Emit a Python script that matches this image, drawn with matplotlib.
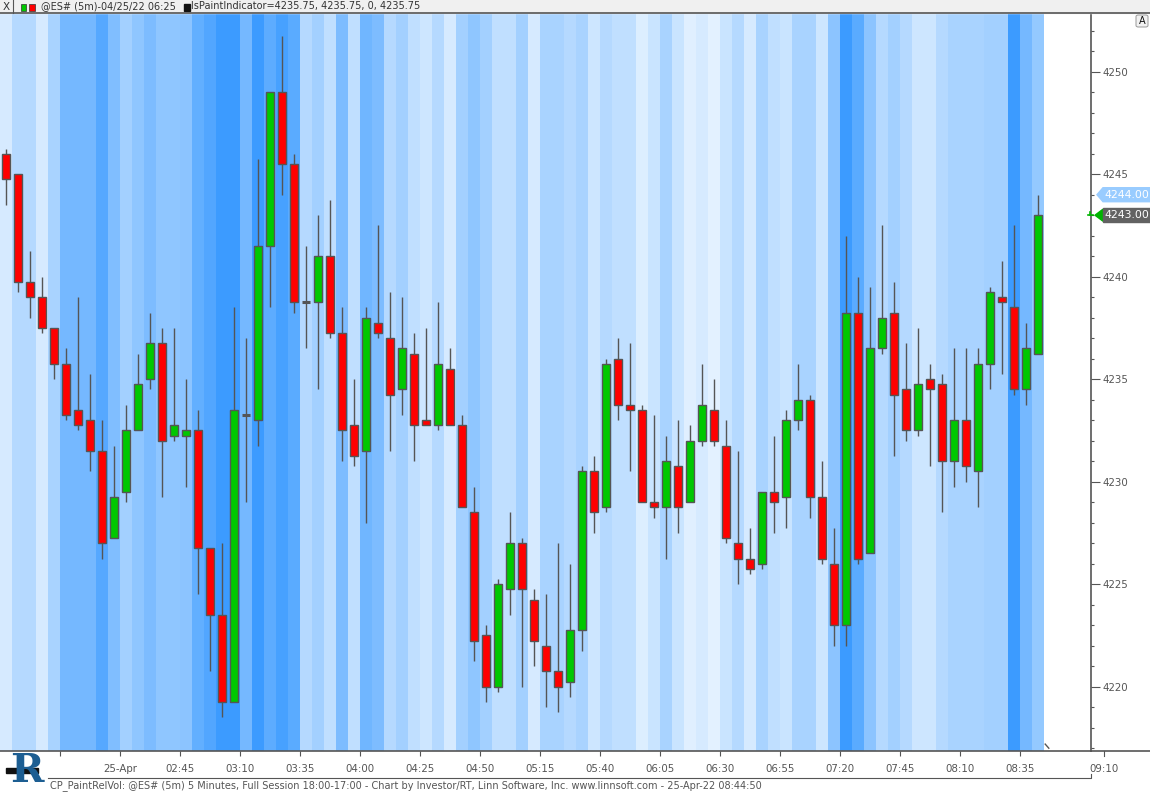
import numpy as np
import matplotlib.pyplot as plt
from matplotlib.colors import LinearSegmentedColormap
from matplotlib.patches import Rectangle, Polygon, FancyBboxPatch
from matplotlib.lines import Line2D

# 5 minute bars of @ES#, 01:30 -> 08:40
opens = [4246.0, 4245.0, 4239.75, 4239.0, 4237.5, 4235.75, 4233.5, 4233.0, 4231.5, 4227.25,
         4229.5, 4232.5, 4235.0, 4236.75, 4232.25, 4232.25, 4232.5, 4226.75, 4223.5, 4219.25,
         4233.25, 4233.0, 4241.5, 4249.0, 4245.5, 4238.75, 4238.75, 4241.0, 4237.25, 4232.75,
         4231.5, 4237.75, 4237.0, 4234.5, 4236.25, 4233.0, 4232.75, 4235.5, 4232.75, 4228.5,
         4222.5, 4220.0, 4224.75, 4227.0, 4224.25, 4222.0, 4220.75, 4220.25, 4222.75, 4230.5,
         4228.75, 4236.0, 4233.75, 4233.5, 4229.0, 4228.75, 4230.75, 4229.0, 4232.0, 4233.5,
         4231.75, 4227.0, 4226.25, 4226.0, 4229.5, 4229.25, 4233.0, 4234.0, 4229.25, 4226.0,
         4223.0, 4238.25, 4226.5, 4236.5, 4238.25, 4234.5, 4232.5, 4235.0, 4234.75, 4231.0,
         4233.0, 4230.5, 4235.75, 4239.0, 4238.5, 4234.5, 4236.25]
highs = [4246.25, 4245.0, 4241.25, 4240.0, 4237.5, 4236.5, 4239.0, 4235.25, 4233.0, 4231.75,
         4233.75, 4236.25, 4238.25, 4237.5, 4237.5, 4235.0, 4233.5, 4226.75, 4227.0, 4238.5,
         4237.0, 4245.75, 4249.0, 4251.75, 4246.0, 4241.5, 4243.0, 4243.75, 4238.5, 4235.0,
         4238.5, 4242.5, 4239.25, 4239.0, 4237.25, 4237.5, 4238.75, 4236.5, 4233.25, 4229.75,
         4223.0, 4225.25, 4228.5, 4227.25, 4224.75, 4224.5, 4227.0, 4226.0, 4230.75, 4231.25,
         4236.0, 4237.0, 4236.75, 4233.75, 4233.25, 4232.25, 4233.0, 4232.75, 4235.75, 4235.0,
         4233.0, 4231.5, 4227.75, 4229.5, 4232.25, 4233.5, 4235.75, 4234.25, 4231.0, 4227.75,
         4242.0, 4240.0, 4239.5, 4242.5, 4239.75, 4236.75, 4237.5, 4235.75, 4235.25, 4236.5,
         4236.5, 4236.5, 4239.5, 4240.75, 4242.5, 4237.75, 4244.0]
lows = [4243.5, 4239.25, 4238.0, 4237.25, 4235.0, 4233.0, 4232.5, 4230.5, 4226.25, 4227.25,
        4229.0, 4232.5, 4234.5, 4229.25, 4232.0, 4229.75, 4224.5, 4220.75, 4218.5, 4219.25,
        4229.0, 4231.75, 4238.5, 4244.0, 4238.25, 4236.5, 4234.5, 4237.0, 4231.0, 4230.75,
        4228.0, 4237.0, 4231.5, 4233.25, 4231.0, 4232.75, 4232.5, 4232.75, 4228.75, 4221.25,
        4219.25, 4219.75, 4223.5, 4220.0, 4221.0, 4219.0, 4218.75, 4219.5, 4221.75, 4227.5,
        4228.5, 4233.0, 4230.5, 4229.0, 4228.25, 4226.25, 4227.5, 4229.0, 4231.75, 4231.75,
        4227.0, 4225.0, 4225.5, 4225.75, 4227.5, 4227.75, 4232.5, 4228.25, 4226.0, 4222.0,
        4222.0, 4226.0, 4226.5, 4236.25, 4231.25, 4232.0, 4232.25, 4230.75, 4228.5, 4229.75,
        4230.0, 4228.75, 4234.5, 4235.25, 4234.25, 4233.75, 4236.25]
closes = [4244.75, 4239.75, 4239.0, 4237.5, 4235.75, 4233.25, 4232.75, 4231.5, 4227.0, 4229.25,
          4232.5, 4234.75, 4236.75, 4232.0, 4232.75, 4232.5, 4226.75, 4223.5, 4219.25, 4233.5,
          4233.25, 4241.5, 4249.0, 4245.5, 4238.75, 4238.75, 4241.0, 4237.25, 4232.5, 4231.25,
          4238.0, 4237.25, 4234.25, 4236.5, 4232.75, 4232.75, 4235.75, 4232.75, 4228.75, 4222.25,
          4220.0, 4225.0, 4227.0, 4224.75, 4222.25, 4220.75, 4220.0, 4222.75, 4230.5, 4228.5,
          4235.75, 4233.75, 4233.5, 4229.0, 4228.75, 4231.0, 4228.75, 4232.0, 4233.75, 4232.0,
          4227.25, 4226.25, 4225.75, 4229.5, 4229.0, 4233.0, 4234.0, 4229.25, 4226.25, 4223.0,
          4238.25, 4226.25, 4236.5, 4238.0, 4234.25, 4232.5, 4234.75, 4234.5, 4231.0, 4233.0,
          4230.75, 4235.75, 4239.25, 4238.75, 4234.5, 4236.5, 4243.0]
# relative volume (0 = low, 1 = high) used to paint the background
relvol = [0.08, 0.28, 0.28, 0.08, 0.35, 0.66, 0.66, 0.66, 0.84, 0.59,
          0.38, 0.50, 0.61, 0.50, 0.50, 0.52, 0.77, 0.87, 1.00, 1.00,
          0.66, 1.00, 0.80, 0.93, 0.82, 0.28, 0.38, 0.21, 0.61, 0.21,
          0.69, 0.61, 0.28, 0.38, 0.21, 0.13, 0.28, 0.08, 0.38, 0.50,
          0.38, 0.21, 0.21, 0.38, 0.08, 0.35, 0.35, 0.28, 0.35, 0.13,
          0.28, 0.21, 0.21, 0.04, 0.16, 0.35, 0.16, 0.02, 0.08, 0.00,
          0.16, 0.28, 0.08, 0.35, 0.21, 0.16, 0.35, 0.35, 0.13, 0.52,
          1.00, 0.82, 0.52, 0.28, 0.38, 0.28, 0.13, 0.13, 0.28, 0.35,
          0.35, 0.35, 0.38, 0.38, 1.00, 0.66, 0.47]

tick_bars = [5, 10, 15, 20, 25, 30, 35, 40, 45, 50, 55, 60, 65, 70, 75, 80, 85]
tick_labels = ['', '25-Apr', '02:45', '03:10', '03:35', '04:00', '04:25', '04:50', '05:15',
               '05:40', '06:05', '06:30', '06:55', '07:20', '07:45', '08:10', '08:35']
price_ticks = [4220, 4225, 4230, 4235, 4240, 4245, 4250]

W, H = 1150, 793
GRAY = '#555555'
FONT = 'DejaVu Sans'

def fx(p):
    return p / W

def fy(p):
    return 1 - p / H

fig = plt.figure(figsize=(11.5, 7.93), dpi=100)
ax = fig.add_axes([0, fy(751), fx(1091), (751 - 13) / H])

cmap = LinearSegmentedColormap.from_list('relvol', ['#e3f1ff', '#3c9bff'])
x = np.arange(len(opens))
o, h, l, c = (np.array(v) for v in (opens, highs, lows, closes))

for i, v in enumerate(relvol):
    ax.axvspan(i - 0.5, i + 0.5, color=cmap(v), lw=0, zorder=0)

up = c > o
dn = c < o
flat = c == o
ax.vlines(x, l, h, color=GRAY, lw=1.0, zorder=2)
ax.bar(x[up], (c - o)[up], bottom=o[up], width=0.6, color='#00c800',
       edgecolor=GRAY, lw=1.0, zorder=3)
ax.bar(x[dn], (o - c)[dn], bottom=c[dn], width=0.6, color='#ff0000',
       edgecolor=GRAY, lw=1.0, zorder=3)
ax.hlines(o[flat], x[flat] - 0.34, x[flat] + 0.34, color=GRAY, lw=2.2, zorder=3)

ax.set_xlim(-0.5, 90.4167)
ax.set_ylim(4216.863, 4252.863)

for s in ['left', 'top']:
    ax.spines[s].set_visible(False)
for s in ['right', 'bottom']:
    ax.spines[s].set_color(GRAY)
    ax.spines[s].set_linewidth(1.2)

ax.yaxis.tick_right()
ax.set_yticks(price_ticks)
ax.set_yticks(np.arange(4217, 4253), minor=True)
ax.tick_params(axis='y', which='major', length=6.5, width=0.8, color=GRAY,
               labelsize=7.4, labelcolor=GRAY, pad=1.5)
ax.tick_params(axis='y', which='minor', length=2.3, width=0.8, color=GRAY)
ax.set_xticks(np.array(tick_bars) - 0.5)
ax.set_xticklabels(tick_labels)
ax.tick_params(axis='x', length=3.6, width=0.8, color=GRAY, labelsize=7.4,
               labelcolor=GRAY, pad=5.5)
for lab in ax.get_xticklabels() + ax.get_yticklabels():
    lab.set_family(FONT)

# end-of-data marker
ax.plot([86.6, 86.9], [4217.2, 4217.0], color=GRAY, lw=1.0, clip_on=False)

# 09:10 tick beyond the price axis
fig.add_artist(Line2D([fx(1091), 1], [fy(751), fy(751)], color=GRAY, lw=1.2))
fig.add_artist(Line2D([fx(1104), fx(1104)], [fy(751), fy(756)], color=GRAY, lw=0.8))
fig.text(fx(1104), fy(769.5), '09:10', ha='center', va='center', fontsize=7.4,
         color=GRAY, family=FONT)

# footer
fig.add_artist(Line2D([fx(48), fx(1091), fx(1091)], [fy(778), fy(778), fy(774)],
                      color=GRAY, lw=0.8))
fig.text(fx(50), fy(786), 'CP_PaintRelVol: @ES# (5m) 5 Minutes, Full Session 18:00-17:00 - '
         'Chart by Investor/RT, Linn Software, Inc. www.linnsoft.com - 25-Apr-22 08:44:50',
         ha='left', va='center', fontsize=7, color=GRAY, family=FONT)

# logo
fig.text(fx(27), fy(771), 'R', ha='center', va='center', fontsize=29, weight='bold',
         family='DejaVu Serif', color='#1d5e92')
fig.add_artist(Rectangle((fx(6), fy(773)), fx(32), 5 / H, color='#111111'))

# header bar
fig.add_artist(Rectangle((0, fy(13)), 1, 13 / H, color='#f0f0f0'))
fig.add_artist(Line2D([0, 1], [fy(13), fy(13)], color=GRAY, lw=1.2))
fig.add_artist(Line2D([fx(13), fx(13)], [fy(0), fy(13)], color=GRAY, lw=0.8))
fig.text(fx(6.5), fy(6.5), 'X', ha='center', va='center', fontsize=7.5, color='#333333',
         family=FONT)
fig.add_artist(Rectangle((fx(20.5), fy(10.5)), fx(5.5), 6.5 / H, facecolor='#00c800',
                         edgecolor='#333333', lw=0.5))
fig.add_artist(Rectangle((fx(29), fy(10.5)), fx(5.5), 6.5 / H, facecolor='#ff0000',
                         edgecolor='#333333', lw=0.5))
fig.text(fx(41), fy(6.5), '@ES# (5m)-04/25/22 06:25', ha='left', va='center',
         fontsize=7.0, color='#333333', family=FONT)
fig.add_artist(Rectangle((fx(184), fy(11)), fx(6), 7 / H, color='#111111'))
fig.text(fx(191), fy(6.5), 'lsPaintIndicator=4235.75, 4235.75, 0, 4235.75', ha='left',
         va='center', fontsize=7.0, color='#333333', family=FONT)

# auto-scale button
fig.add_artist(FancyBboxPatch((fx(1136), fy(27)), fx(12), 12 / H,
                              boxstyle='round,pad=0,rounding_size=0.002',
                              facecolor='#f2f2f2', edgecolor='#999999', lw=0.7))
fig.text(fx(1142), fy(21), 'A', ha='center', va='center', fontsize=7, color='#111111',
         family=FONT)

# last price tags
def yprice(p):
    return 71.7 + (4250 - p) * 20.5

for price, face in [(highs[-1], '#99ccff'), (closes[-1], '#626262')]:
    yc = yprice(price)
    pts = [(1097, yc), (1103, yc - 7), (1150, yc - 7), (1150, yc + 7), (1103, yc + 7)]
    if face == '#626262':
        pts = [(1103, yc - 7), (1150, yc - 7), (1150, yc + 7), (1103, yc + 7)]
        fig.add_artist(Polygon([(fx(1095), fy(yc)), (fx(1103), fy(yc - 6)),
                                (fx(1103), fy(yc + 6))], closed=True, color='#00b400'))
        fig.add_artist(Line2D([fx(1088), fx(1093)], [fy(yc), fy(yc)], color='#00b400', lw=1.2))
        fig.add_artist(Line2D([fx(1090), fx(1090)], [fy(yc), fy(yc - 3)], color='#00b400', lw=1.2))
    fig.add_artist(Polygon([(fx(a), fy(b)) for a, b in pts], closed=True, color=face))
    fig.text(fx(1104), fy(yc), f'{price:.2f}', ha='left', va='center', fontsize=7.8,
             color='white', family=FONT)

fig.savefig('out.png', dpi=100)
